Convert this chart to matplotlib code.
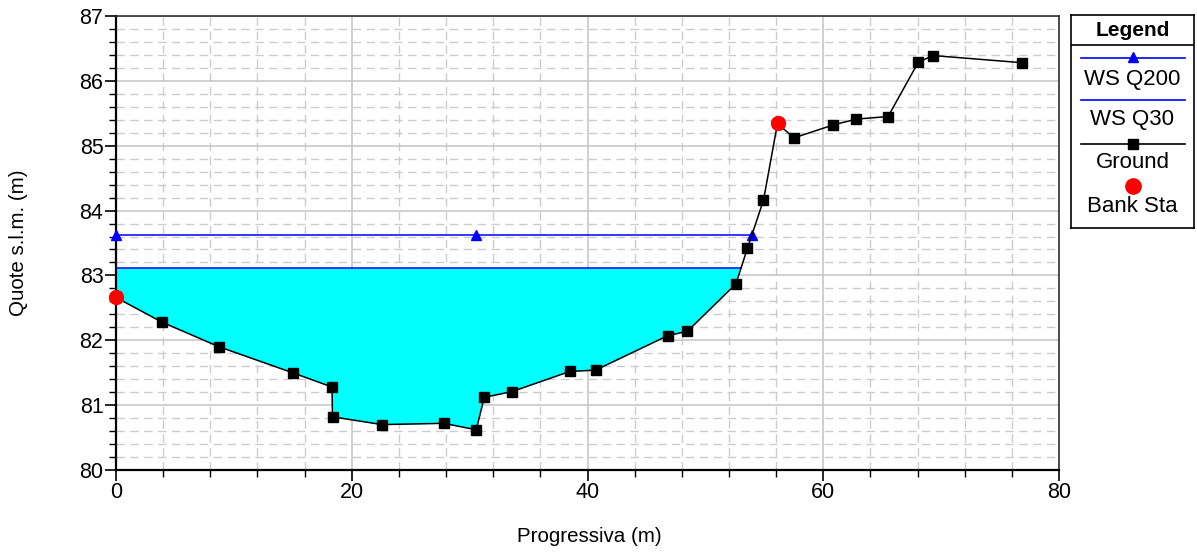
import numpy as np
import matplotlib.pyplot as plt
from matplotlib.ticker import MultipleLocator
from matplotlib.lines import Line2D

plt.rcParams['font.family'] = ['Liberation Sans', 'DejaVu Sans']

# ground profile
ground_x = [0.0, 3.9, 8.74, 14.98, 18.32, 18.37, 22.58, 27.8, 30.56, 31.24, 33.61,
            38.5, 40.68, 46.79, 48.48, 52.59, 53.57, 54.93, 56.12, 57.5, 60.84,
            62.8, 65.5, 68.07, 69.34, 76.85]
ground_y = [82.66, 82.28, 81.90, 81.50, 81.28, 80.82, 80.70, 80.72, 80.62, 81.12, 81.21,
            81.52, 81.54, 82.07, 82.14, 82.87, 83.42, 84.16, 85.345, 85.12, 85.32,
            85.41, 85.45, 86.29, 86.39, 86.28]

# water surfaces
ws_q200 = 83.62
ws_q200_x = [0.0, 30.5, 53.94]
ws_q30 = 83.11
ws_q30_x = [0.0, 53.02]

# bank stations
bank_x = [0.0, 56.12]
bank_y = [82.66, 85.345]

fig = plt.figure(figsize=(11.97, 5.53), dpi=100)
ax = fig.add_axes([116/1197, 1 - 470/553, (1059 - 116)/1197, (470 - 16)/553])

# wetted area under WS Q30
fx = np.linspace(ws_q30_x[0], ws_q30_x[1], 600)
fy = np.interp(fx, ground_x, ground_y)
ax.fill_between(fx, fy, ws_q30, where=fy <= ws_q30, color='#00ffff', lw=0, zorder=2)

ax.plot(ws_q200_x, [ws_q200]*len(ws_q200_x), color='#0000ff', lw=1.1, marker='^',
        ms=7, zorder=3, clip_on=False)
ax.plot(ws_q30_x, [ws_q30]*len(ws_q30_x), color='#0000ff', lw=1.1, zorder=3)
ax.plot(ground_x, ground_y, color='black', lw=1.1, marker='s', ms=6.5, zorder=4)
ax.plot(bank_x, bank_y, ls='none', marker='o', color='#ff0000', ms=10, zorder=5,
        clip_on=False)

ax.set_xlim(0, 80)
ax.set_ylim(80, 87)
ax.xaxis.set_major_locator(MultipleLocator(20))
ax.xaxis.set_minor_locator(MultipleLocator(4))
ax.yaxis.set_major_locator(MultipleLocator(1))
ax.yaxis.set_minor_locator(MultipleLocator(0.2))
ax.grid(which='major', color='#c8c8c8', lw=1.2, ls='-', zorder=0)
ax.grid(which='minor', color='#cccccc', lw=1.0, ls=(0, (6, 4)), zorder=0)
ax.set_axisbelow(True)
ax.tick_params(which='major', direction='out', length=8, width=1.2, labelsize=15.5,
               colors='black', pad=1)
ax.tick_params(which='minor', direction='out', length=5, width=1.0)
for s in ['left', 'bottom']:
    ax.spines[s].set_linewidth(1.6)
for s in ['top', 'right']:
    ax.spines[s].set_linewidth(1.2)
    ax.spines[s].set_color('#303030')

fig.text(589/1197, 1 - 536/553, 'Progressiva (m)', ha='center', va='center', fontsize=14.8)
fig.text(19/1197, 1 - 243/553, 'Quote s.l.m. (m)', ha='center', va='center',
         rotation=90, fontsize=14.8)

# legend box
lg = fig.add_axes([1071/1197, 1 - 228/553, (1194 - 1071)/1197, (228 - 15)/553])
lg.set_xlim(1071, 1194)
lg.set_ylim(228, 15)
lg.set_xticks([])
lg.set_yticks([])
for s in lg.spines.values():
    s.set_linewidth(1.2)
lg.axhline(45, color='black', lw=1.2)
lg.text(1132.5, 30, 'Legend', ha='center', va='center', fontsize=15, fontweight='bold')
lg.add_line(Line2D([1081, 1185], [58, 58], color='#0000ff', lw=1.2))
lg.plot([1133], [57], marker='^', color='#0000ff', ms=7)
lg.text(1132.5, 79, 'WS Q200', ha='center', va='center', fontsize=16)
lg.add_line(Line2D([1081, 1185], [100, 100], color='#0000ff', lw=1.2))
lg.text(1132.5, 120, 'WS Q30', ha='center', va='center', fontsize=16)
lg.add_line(Line2D([1081, 1185], [144, 144], color='black', lw=1.2))
lg.plot([1133], [144], marker='s', color='black', ms=7)
lg.text(1132.5, 163, 'Ground', ha='center', va='center', fontsize=16)
lg.plot([1133], [186], marker='o', color='#ff0000', ms=11)
lg.text(1132.5, 206, 'Bank Sta', ha='center', va='center', fontsize=16)

fig.savefig('out.png', dpi=100)
